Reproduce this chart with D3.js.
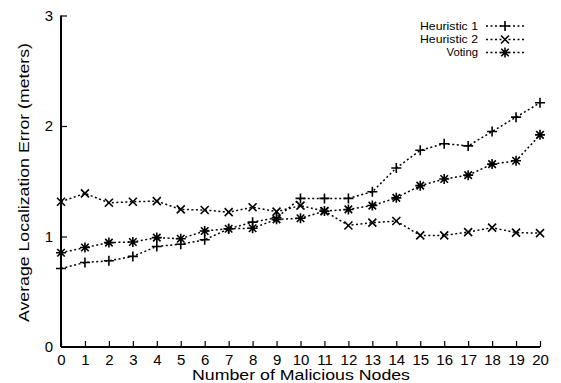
<!DOCTYPE html>
<html><head><meta charset="utf-8">
<script src="https://cdn.jsdelivr.net/npm/d3@7"></script>
<style>body{margin:0;background:#fff}svg{display:block}text{font-family:"Liberation Sans",Arial,Helvetica,sans-serif}</style>
</head><body><svg id="c" width="561" height="383"></svg>
<script>
const nodes = d3.range(0, 21);
const heuristic1 = [0.71,0.765,0.78,0.82,0.91,0.93,0.97,1.07,1.13,1.17,1.345,1.345,1.345,1.405,1.62,1.78,1.84,1.82,1.95,2.08,2.21];
const heuristic2 = [1.315,1.39,1.305,1.315,1.32,1.245,1.24,1.22,1.265,1.225,1.28,1.23,1.10,1.125,1.14,1.01,1.01,1.04,1.08,1.035,1.03];
const voting = [0.853,0.90,0.945,0.95,0.99,0.98,1.05,1.07,1.075,1.155,1.165,1.23,1.245,1.28,1.35,1.46,1.52,1.555,1.655,1.685,1.92];
const seriesNames = ["Heuristic 1","Heuristic 2","Voting"];
const yTicks = [0,1,2,3];

const svg = d3.select("#c");
const x = d3.scaleLinear().domain([0,20]).range([61,540]);
const y = d3.scaleLinear().domain([0,3]).range([347,15.5]);

function marker(g, type, s) {
  const p = d3.path();
  if (type === 0) { p.moveTo(-s,0); p.lineTo(s,0); p.moveTo(0,-s); p.lineTo(0,s); }
  else if (type === 1) { const t=s*0.8; p.moveTo(-t,-t); p.lineTo(t,t); p.moveTo(-t,t); p.lineTo(t,-t); }
  else { p.moveTo(-s,0); p.lineTo(s,0); p.moveTo(0,-s); p.lineTo(0,s); const t=s*0.75; p.moveTo(-t,-t); p.lineTo(t,t); p.moveTo(-t,t); p.lineTo(t,-t); }
  g.append("path").attr("d", p.toString()).attr("stroke","#000").attr("stroke-width",1.6).attr("fill","none");
}

// axes
const xAxis = d3.axisBottom(x).tickValues(nodes).tickSize(-6).tickPadding(7).tickFormat(d3.format("d"));
const gx = svg.append("g").attr("transform",`translate(0,${y(0)})`).call(xAxis);
gx.attr("font-family",null).attr("font-size",null);
gx.select(".domain").attr("stroke-width",2).attr("d",`M${x(0)},0H${x(20)}`);
gx.selectAll(".tick line").attr("stroke-width",1.2);
gx.selectAll("text").attr("font-size",15).attr("fill","#000");

const yAxis = d3.axisLeft(y).tickValues(yTicks).tickSize(-6).tickPadding(8).tickFormat(d3.format("d"));
const gy = svg.append("g").attr("transform",`translate(${x(0)},0)`).call(yAxis);
gy.attr("font-family",null).attr("font-size",null);
gy.select(".domain").attr("stroke-width",2).attr("d",`M0,${y(0)}V${y(3)}`);
gy.selectAll(".tick line").attr("stroke-width",1.2);
gy.selectAll("text").attr("font-size",15).attr("fill","#000");
gy.selectAll(".tick").filter(d=>d===0).select("line").remove();

svg.append("text").attr("x",301).attr("y",380).attr("text-anchor","middle").attr("font-size",15.5)
  .attr("textLength",218).attr("lengthAdjust","spacingAndGlyphs").text("Number of Malicious Nodes");
svg.append("text").attr("transform","translate(28.5,182.5) rotate(-90)").attr("text-anchor","middle").attr("font-size",15.5)
  .attr("textLength",279).attr("lengthAdjust","spacingAndGlyphs").text("Average Localization Error (meters)");

const data = [heuristic1, heuristic2, voting];
const line = d3.line().x((d,i)=>x(nodes[i])).y(d=>y(d));
data.forEach((vals, k) => {
  svg.append("path").datum(vals).attr("d", line).attr("fill","none").attr("stroke","#000")
    .attr("stroke-width",1.5).attr("stroke-dasharray","2,2.5");
  vals.forEach((v,i) => {
    const g = svg.append("g").attr("transform",`translate(${x(nodes[i])},${y(v)})`);
    marker(g, k, 5);
  });
});

// legend
const legY = [26, 39.5, 52.5];
const legW = [58, 58, 31.5];
seriesNames.forEach((n,k) => {
  svg.append("text").attr("x",478).attr("y",legY[k]).attr("dy","0.35em").attr("text-anchor","end")
    .attr("font-size",11).attr("textLength",legW[k]).attr("lengthAdjust","spacingAndGlyphs").text(n);
  svg.append("line").attr("x1",486).attr("x2",524).attr("y1",legY[k]).attr("y2",legY[k])
    .attr("stroke","#000").attr("stroke-width",1.5).attr("stroke-dasharray","2,2.5");
  const g = svg.append("g").attr("transform",`translate(505,${legY[k]})`);
  marker(g, k, 5);
});
</script></body></html>
